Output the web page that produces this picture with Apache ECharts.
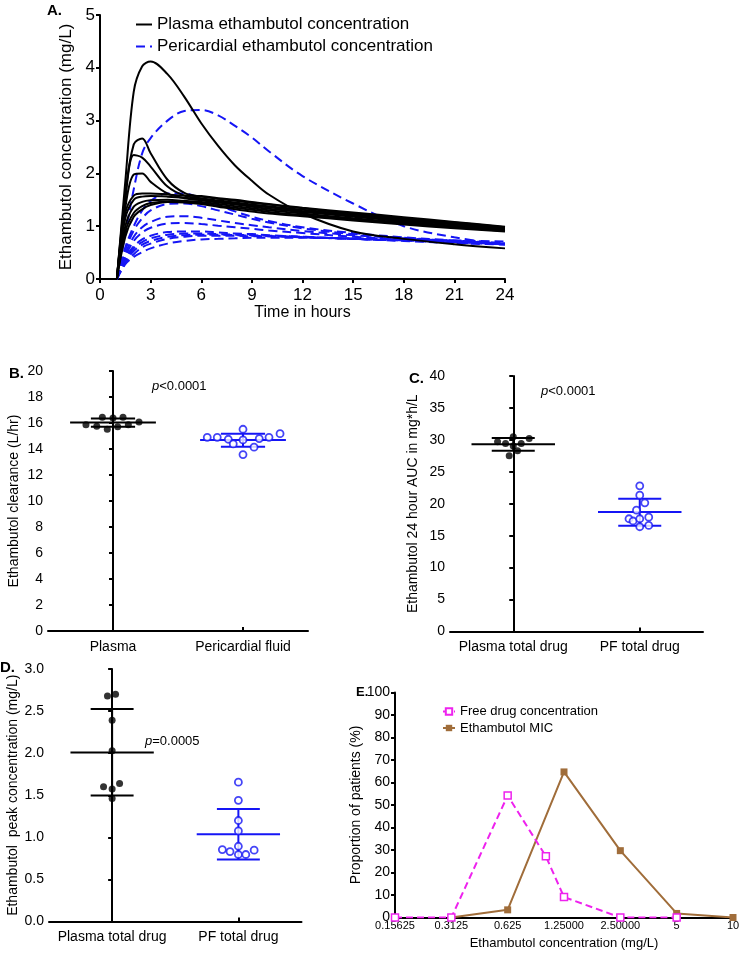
<!DOCTYPE html>
<html><head><meta charset="utf-8">
<script src="https://cdn.jsdelivr.net/npm/echarts@6/dist/echarts.min.js"></script>
<style>html,body{margin:0;padding:0;background:#fff}#c{width:740px;height:954px}</style>
</head><body><div id="c"></div>
<script>
// ---------- Panel A: concentration-time profiles ----------
const timeHours = [1, 1.5, 2, 2.5, 3, 4, 5, 6, 7, 8, 9, 10, 12, 15, 18, 21, 24];
const plasmaCurves = [
  [0, 1.85, 3.55, 4.03, 4.12, 3.88, 3.45, 2.95, 2.52, 2.15, 1.86, 1.6, 1.24, 0.9, 0.76, 0.66, 0.58],
  [0, 1.25, 1.58, 1.62, 1.62, 1.6, 1.58, 1.57, 1.53, 1.5, 1.46, 1.42, 1.35, 1.26, 1.17, 1.08, 0.99],
  [0, 1.6, 2.55, 2.66, 2.38, 1.88, 1.63, 1.56, 1.52, 1.48, 1.44, 1.41, 1.34, 1.24, 1.15, 1.07, 0.98],
  [0, 1.5, 2.35, 2.3, 2.13, 1.75, 1.58, 1.53, 1.49, 1.45, 1.41, 1.38, 1.31, 1.22, 1.13, 1.05, 0.97],
  [0, 1.15, 1.5, 1.56, 1.57, 1.56, 1.54, 1.51, 1.47, 1.43, 1.39, 1.36, 1.29, 1.2, 1.11, 1.03, 0.95],
  [0, 1.35, 1.98, 2.0, 1.84, 1.62, 1.53, 1.49, 1.45, 1.41, 1.37, 1.33, 1.27, 1.18, 1.09, 1.01, 0.94],
  [0, 1.0, 1.37, 1.46, 1.49, 1.5, 1.48, 1.46, 1.42, 1.38, 1.34, 1.3, 1.24, 1.15, 1.07, 0.99, 0.92],
  [0, 0.9, 1.25, 1.38, 1.44, 1.47, 1.46, 1.44, 1.39, 1.35, 1.31, 1.27, 1.21, 1.13, 1.05, 0.98, 0.91],
  [0, 0.8, 1.18, 1.32, 1.4, 1.46, 1.45, 1.42, 1.37, 1.32, 1.28, 1.24, 1.19, 1.11, 1.03, 0.96, 0.9]
];
const pericardialCurves = [
  [0, 0.85, 1.7, 2.38, 2.67, 3.0, 3.18, 3.2, 3.1, 2.9, 2.68, 2.42, 1.95, 1.43, 1.0, 0.79, 0.65],
  [0, 0.6, 1.0, 1.3, 1.48, 1.62, 1.62, 1.52, 1.4, 1.28, 1.18, 1.1, 0.98, 0.87, 0.79, 0.73, 0.68],
  [0, 0.55, 0.92, 1.15, 1.3, 1.42, 1.43, 1.38, 1.3, 1.22, 1.14, 1.07, 0.96, 0.85, 0.78, 0.72, 0.67],
  [0, 0.48, 0.8, 0.98, 1.08, 1.18, 1.19, 1.16, 1.11, 1.06, 1.02, 0.98, 0.91, 0.83, 0.77, 0.72, 0.67],
  [0, 0.43, 0.72, 0.88, 0.97, 1.05, 1.06, 1.04, 1.01, 0.98, 0.95, 0.92, 0.87, 0.8, 0.75, 0.7, 0.66],
  [0, 0.4, 0.62, 0.75, 0.82, 0.89, 0.9, 0.9, 0.88, 0.86, 0.85, 0.83, 0.8, 0.76, 0.72, 0.68, 0.65],
  [0, 0.36, 0.58, 0.7, 0.77, 0.84, 0.86, 0.86, 0.85, 0.84, 0.83, 0.82, 0.8, 0.76, 0.73, 0.69, 0.66],
  [0, 0.33, 0.53, 0.65, 0.72, 0.8, 0.83, 0.84, 0.84, 0.83, 0.82, 0.81, 0.79, 0.76, 0.73, 0.7, 0.67],
  [0, 0.3, 0.47, 0.6, 0.67, 0.76, 0.8, 0.82, 0.82, 0.82, 0.81, 0.81, 0.79, 0.76, 0.74, 0.71, 0.68],
  [0, 0.28, 0.42, 0.51, 0.58, 0.67, 0.72, 0.75, 0.76, 0.77, 0.78, 0.78, 0.78, 0.77, 0.75, 0.73, 0.71]
];

// ---------- Panel B: clearance ----------
const groupsB = ['Plasma', 'Pericardial fluid'];
const clearancePlasma = [15.87, 15.75, 16.44, 15.52, 16.39, 15.72, 16.44, 15.87, 16.08];
const clearancePlasmaJitter = [-0.208, -0.125, -0.082, -0.044, 0, 0.036, 0.077, 0.118, 0.2];
const clearancePF = [14.9, 14.9, 14.75, 14.39, 15.52, 14.7, 13.57, 14.14, 14.8, 14.9, 15.18];
const clearancePFJitter = [-0.275, -0.198, -0.113, -0.075, 0, 0, 0, 0.085, 0.125, 0.2, 0.285];
const clearanceSummary = [[16.03, 15.72, 16.34], [14.7, 14.18, 15.18]]; // mean, -SD, +SD

// ---------- Panel C: AUC ----------
const groupsCD = ['Plasma total drug', 'PF total drug'];
const aucPlasma = [29.7, 29.45, 30.5, 29.03, 28.3, 27.5, 29.45, 30.2];
const aucPlasmaJitter = [-0.124, -0.061, 0, 0, 0.034, -0.032, 0.063, 0.126];
const aucPF = [22.8, 21.35, 20.15, 19.0, 17.65, 17.3, 17.65, 17.9, 16.4, 16.6];
const aucPFJitter = [0, 0, 0.04, -0.026, -0.085, -0.053, 0, 0.071, 0, 0.071];
const aucSummary = [[29.3, 28.3, 30.3], [18.7, 16.55, 20.8]];

// ---------- Panel D: peak concentration ----------
const peakPlasma = [2.68, 2.70, 2.39, 2.03, 1.60, 1.575, 1.64, 1.46];
const peakPlasmaJitter = [-0.037, 0.027, 0, 0, -0.068, 0, 0.059, 0];
const peakPF = [1.655, 1.44, 1.2, 1.076, 0.894, 0.855, 0.831, 0.796, 0.796, 0.847];
const peakPFJitter = [0, 0, 0, 0, 0, -0.127, -0.066, 0, 0.059, 0.125];
const peakSummary = [[2.007, 1.496, 2.525], [1.037, 0.736, 1.337]];

// ---------- Panel E: distributions ----------
const concTickLabels = ['0.15625', '0.3125', '0.625', '1.25000', '2.50000', '5', '10'];
const freeConc = [0.15625, 0.3125, 0.625, 1.0, 1.25, 2.5, 5];
const freePct = [0, 0, 54.2, 27.2, 9.1, 0, 0];
const micConc = [0.3125, 0.625, 1.25, 2.5, 5, 10];
const micPct = [0, 3.4, 64.7, 29.7, 1.8, 0];

// ---------- styling ----------
const FONT = 'Liberation Sans, Arial, Helvetica, sans-serif';
const BLUE = '#1515f5';
const MAGENTA = '#ee22ee';
const BROWN = '#a06d3a';
const axisLine = { lineStyle: { color: '#000', width: 2 } };

function valueY(gridIndex, min, max, interval, name, nameGap, fmt) {
  return {
    type: 'value', gridIndex, min, max, interval, name, nameLocation: 'middle', nameGap,
    nameTextStyle: { color: '#000', fontSize: 14, fontFamily: FONT },
    axisLine: Object.assign({ show: true }, axisLine),
    axisTick: { show: true, length: 4, lineStyle: { color: '#000', width: 2 } },
    axisLabel: { color: '#000', fontSize: 14, fontFamily: FONT, margin: 5, formatter: fmt },
    splitLine: { show: false }
  };
}
function catX(gridIndex, data) {
  return {
    type: 'category', gridIndex, data, position: 'bottom', boundaryGap: true,
    axisLine,
    axisTick: { show: true, inside: true, alignWithLabel: true, interval: 0, length: 4, lineStyle: { color: '#000', width: 2 } },
    axisLabel: { color: '#000', fontSize: 14, fontFamily: FONT, margin: 9, interval: 0, hideOverlap: false },
    splitLine: { show: false }
  };
}
function hiddenX(gridIndex) {
  return { type: 'value', gridIndex, min: -0.5, max: 1.5, show: false, position: 'bottom', splitLine: { show: false } };
}
function dots(xIdx, yIdx, groupIndex, values, jitter, filled) {
  return {
    type: 'scatter', xAxisIndex: xIdx, yAxisIndex: yIdx, z: 5, symbol: 'circle', symbolSize: 7,
    itemStyle: filled ? { color: '#000' } : { color: '#fff', borderColor: BLUE, borderWidth: 1.8 },
    data: values.map((v, i) => [groupIndex + jitter[i], v]),
    silent: true
  };
}
function bars(xIdx, yIdx, summary) {
  const cols = ['#000', BLUE];
  return {
    type: 'custom', xAxisIndex: xIdx, yAxisIndex: yIdx, z: 4, silent: true,
    data: summary.map((s, i) => [i, s[0], s[1], s[2]]),
    renderItem(params, api) {
      const i = api.value(0);
      const m = api.coord([i, api.value(1)]);
      const lo = api.coord([i, api.value(2)]);
      const hi = api.coord([i, api.value(3)]);
      const half = api.size([0.33, 0])[0];
      const cap = api.size([0.17, 0])[0];
      const st = { stroke: cols[i], lineWidth: 2 };
      return { type: 'group', children: [
        { type: 'line', shape: { x1: m[0] - half, y1: m[1], x2: m[0] + half, y2: m[1] }, style: st },
        { type: 'line', shape: { x1: lo[0], y1: lo[1], x2: hi[0], y2: hi[1] }, style: st },
        { type: 'line', shape: { x1: lo[0] - cap, y1: lo[1], x2: lo[0] + cap, y2: lo[1] }, style: st },
        { type: 'line', shape: { x1: hi[0] - cap, y1: hi[1], x2: hi[0] + cap, y2: hi[1] }, style: st }
      ] };
    }
  };
}

const series = [];
plasmaCurves.forEach(c => series.push({
  type: 'line', name: 'Plasma ethambutol concentration', xAxisIndex: 0, yAxisIndex: 0,
  data: timeHours.map((t, i) => [t, c[i]]), smooth: 0.35, symbol: 'none',
  lineStyle: { color: '#000', width: 2 }, itemStyle: { color: '#000', opacity: 0 }, z: 3, silent: true
}));
pericardialCurves.forEach(c => series.push({
  type: 'line', name: 'Pericardial ethambutol concentration', xAxisIndex: 0, yAxisIndex: 0,
  data: timeHours.map((t, i) => [t, c[i]]), smooth: 0.35, symbol: 'none',
  lineStyle: { color: BLUE, width: 2, type: [9, 5] }, itemStyle: { color: BLUE, opacity: 0 }, z: 2, silent: true
}));
series.push(bars(2, 1, clearanceSummary));
series.push(dots(2, 1, 0, clearancePlasma, clearancePlasmaJitter, true));
series.push(dots(2, 1, 1, clearancePF, clearancePFJitter, false));
series.push(bars(4, 2, aucSummary));
series.push(dots(4, 2, 0, aucPlasma, aucPlasmaJitter, true));
series.push(dots(4, 2, 1, aucPF, aucPFJitter, false));
series.push(bars(6, 3, peakSummary));
series.push(dots(6, 3, 0, peakPlasma, peakPlasmaJitter, true));
series.push(dots(6, 3, 1, peakPF, peakPFJitter, false));
series.push({
  type: 'line', name: 'Ethambutol MIC', xAxisIndex: 8, yAxisIndex: 4, z: 3,
  data: micConc.map((c, i) => [c, micPct[i]]), symbol: 'rect', symbolSize: 7, showSymbol: true,
  lineStyle: { color: BROWN, width: 2 }, itemStyle: { color: BROWN }, silent: true
});
series.push({
  type: 'line', name: 'Free drug concentration', xAxisIndex: 8, yAxisIndex: 4, z: 4,
  data: freeConc.map((c, i) => [c, freePct[i]]), symbol: 'rect', symbolSize: 7, showSymbol: true,
  lineStyle: { color: MAGENTA, width: 2, type: [7, 4] },
  itemStyle: { color: '#fff', borderColor: MAGENTA, borderWidth: 1.5 }, silent: true
});

const option = {
  animation: false,
  backgroundColor: '#fff',
  textStyle: { fontFamily: FONT },
  grid: [
    { left: 100, top: 15, width: 405, height: 264, containLabel: false, outerBoundsMode: 'none' },
    { left: 48, top: 371, width: 260, height: 260, containLabel: false, outerBoundsMode: 'none' },
    { left: 450, top: 376, width: 253, height: 255.5, containLabel: false, outerBoundsMode: 'none' },
    { left: 49, top: 669, width: 252.5, height: 252.5, containLabel: false, outerBoundsMode: 'none' },
    { left: 395, top: 692.5, width: 338, height: 225, containLabel: false, outerBoundsMode: 'none' }
  ],
  legend: [
    {
      left: 130, top: 11, orient: 'vertical', itemGap: 5, itemWidth: 16, itemHeight: 14,
      data: ['Plasma ethambutol concentration', 'Pericardial ethambutol concentration'],
      textStyle: { color: '#000', fontSize: 17, fontFamily: FONT, lineHeight: 17 }, selectedMode: false
    },
    {
      left: 437, top: 700, orient: 'vertical', itemGap: 3.5, itemWidth: 12, itemHeight: 8,
      data: ['Free drug concentration', 'Ethambutol MIC'],
      textStyle: { color: '#000', fontSize: 13, fontFamily: FONT, lineHeight: 13 }, selectedMode: false
    }
  ],
  xAxis: [
    { type: 'value', gridIndex: 0, min: 0, max: 24, interval: 3, name: 'Time in hours', nameLocation: 'middle', nameGap: 25,
      nameTextStyle: { color: '#000', fontSize: 16, fontFamily: FONT },
      axisLine, axisTick: { show: true, length: 4, lineStyle: { color: '#000', width: 2 } },
      axisLabel: { color: '#000', fontSize: 17, fontFamily: FONT, margin: 8 }, splitLine: { show: false } },
    catX(1, groupsB), hiddenX(1),
    catX(2, groupsCD), hiddenX(2),
    catX(3, groupsCD), hiddenX(3),
    { type: 'category', gridIndex: 4, data: concTickLabels, boundaryGap: false, position: 'bottom',
      name: 'Ethambutol concentration (mg/L)', nameLocation: 'middle', nameGap: 19,
      nameTextStyle: { color: '#000', fontSize: 13, fontFamily: FONT },
      axisLine, axisTick: { show: false },
      axisLabel: { color: '#000', fontSize: 11, fontFamily: FONT, margin: 3, interval: 0, hideOverlap: false }, splitLine: { show: false } },
    { type: 'log', logBase: 2, gridIndex: 4, min: 0.15625, max: 10, show: false, position: 'bottom', splitLine: { show: false } }
  ],
  yAxis: [
    { type: 'value', gridIndex: 0, min: 0, max: 5, interval: 1, name: 'Ethambutol concentration (mg/L)', nameLocation: 'middle', nameGap: 15,
      nameTextStyle: { color: '#000', fontSize: 17, fontFamily: FONT },
      axisLine: Object.assign({ show: true }, axisLine),
      axisTick: { show: true, length: 4, lineStyle: { color: '#000', width: 2 } },
      axisLabel: { color: '#000', fontSize: 17, fontFamily: FONT, margin: 5 }, splitLine: { show: false } },
    valueY(1, 0, 20, 2, 'Ethambutol clearance (L/hr)', 27),
    valueY(2, 0, 40, 5, 'Ethambutol 24 hour AUC in mg*h/L', 30),
    valueY(3, 0, 3, 0.5, 'Ethambutol  peak concentration (mg/L)', 24, v => v.toFixed(1)),
    valueY(4, 0, 100, 10, 'Proportion of patients (%)', 19)
  ],
  graphic: [
    { type: 'text', left: 47, top: 3, style: { text: 'A.', fontSize: 15, fontWeight: 'bold', fontFamily: FONT, fill: '#000' } },
    { type: 'text', left: 9, top: 366, style: { text: 'B.', fontSize: 15, fontWeight: 'bold', fontFamily: FONT, fill: '#000' } },
    { type: 'text', left: 409, top: 371, style: { text: 'C.', fontSize: 15, fontWeight: 'bold', fontFamily: FONT, fill: '#000' } },
    { type: 'text', left: 0, top: 660, style: { text: 'D.', fontSize: 15, fontWeight: 'bold', fontFamily: FONT, fill: '#000' } },
    { type: 'text', left: 356, top: 686, style: { text: 'E.', fontSize: 13, fontWeight: 'bold', fontFamily: FONT, fill: '#000' } },
    { type: 'text', left: 152, top: 380, style: { text: '{i|p}<0.0001', fontSize: 13, fontFamily: FONT, fill: '#000', rich: { i: { fontStyle: 'italic', fontSize: 13, fontFamily: FONT } } } },
    { type: 'text', left: 541, top: 385, style: { text: '{i|p}<0.0001', fontSize: 13, fontFamily: FONT, fill: '#000', rich: { i: { fontStyle: 'italic', fontSize: 13, fontFamily: FONT } } } },
    { type: 'text', left: 145, top: 735, style: { text: '{i|p}=0.0005', fontSize: 13, fontFamily: FONT, fill: '#000', rich: { i: { fontStyle: 'italic', fontSize: 13, fontFamily: FONT } } } }
  ],
  series
};
const chart = echarts.init(document.getElementById('c'), null, { renderer: 'canvas' });
chart.setOption(option);
</script></body></html>
